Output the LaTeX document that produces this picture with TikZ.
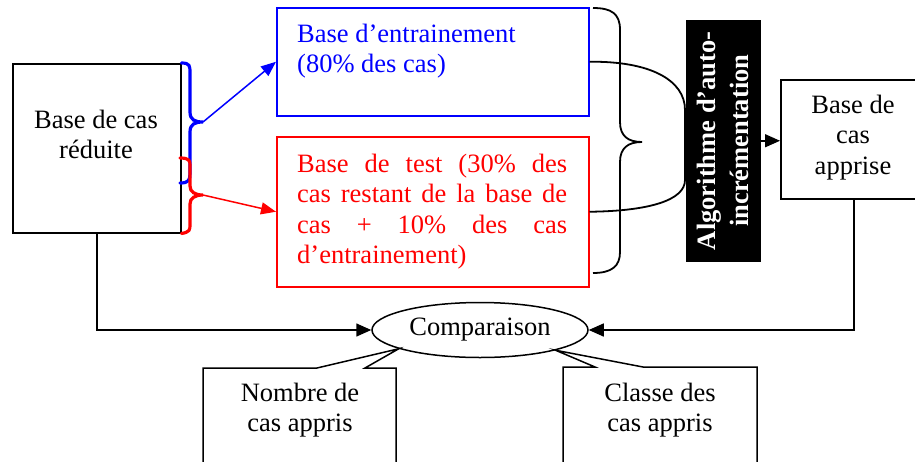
\documentclass[tikz,border=0pt]{standalone}
\usepackage{fontspec}
\setmainfont{Liberation Serif}
\usetikzlibrary{arrows.meta,shapes.geometric}
\begin{document}
\begin{tikzpicture}[x=1pt,y=-1pt,
  box/.style={draw, line width=1.5pt, inner sep=0pt, anchor=north west},
  txt/.style={inner sep=0pt, anchor=base, font=\fontsize{26.5}{30.5}\selectfont},
  arr/.style={-{Triangle[length=15pt,width=13pt]}, line width=1.5pt},
  brc/.style={line width=3.2pt, line cap=round},
  line/.style={line width=1.5pt}]
\clip (0,0) rectangle (915,461);
\fill[white] (0,0) rectangle (915,461);
% boxes
\node[box, minimum width=168pt, minimum height=169pt] (reduite) at (12,63) {};
\node[box, draw=blue, minimum width=312pt, minimum height=108pt] (bluebox) at (276,7) {};
\node[box, draw=red, minimum width=312pt, minimum height=150pt] (redbox) at (276,136) {};
\node[box, minimum width=146pt, minimum height=119pt] (apprise) at (780,79) {};
% texts
\node[txt] (treduite) at (96,128) {\begin{tabular}[t]{@{}c@{}}Base de cas\\réduite\end{tabular}};
\node[txt, anchor=base west, text=blue] (tblue) at (297,42) {\begin{tabular}[t]{@{}l@{}}Base d’entrainement\\(80\% des cas)\end{tabular}};
\node[txt, anchor=base west, text=red] (tred) at (297,172) {\begin{tabular}[t]{@{}l@{}}%
\hbox to 270pt{Base\hfill de\hfill test\hfill (30\%\hfill des}\\
\hbox to 270pt{cas\hfill restant\hfill de\hfill la\hfill base\hfill de}\\
\hbox to 270pt{cas\hfill +\hfill 10\%\hfill des\hfill cas}\\
d’entrainement)\end{tabular}};
\node[txt] (tapprise) at (853,113) {\begin{tabular}[t]{@{}c@{}}Base de\\cas\\apprise\end{tabular}};
% curve from the two bases into the algorithm
\draw[line width=1.8pt] (bluebox.east) .. controls (650,61) and (685,80) .. (685,110) -- (685,180) .. controls (685,200) and (650,211) .. (redbox.east);
% big brace
\draw[line width=1.8pt] (593,8) .. controls (612,8) and (620,14) .. (620,30) -- (620,122) .. controls (620,136) and (628,142) .. (642,142) .. controls (628,142) and (620,148) .. (620,162) -- (620,252) .. controls (620,266) and (612,273) .. (593,273);
% algorithm box
\node[box, fill=black, minimum width=73pt, minimum height=240pt] (algo) at (686,20) {};
\node[inner sep=0pt, rotate=90, text=white, align=center, font=\bfseries\fontsize{26.5}{33}\selectfont] (talgo) at (algo.center) {Algorithme d’auto-\\incrémentation};
\draw[arr] (algo.east) -- (apprise.west |- algo.east);
% braces
\draw[brc, blue] (reduite.north east) .. controls (190,63) and (190,66) .. (190,73) -- (190,112) .. controls (190,120) and (195,122) .. (203,122) coordinate (bt) .. controls (195,122) and (190,124) .. (190,132) -- (190,173) .. controls (190,180) and (189,183) .. (180,183);
\draw[brc, red] (180,158) .. controls (190,158) and (190,161) .. (190,166) -- (190,186) .. controls (190,192) and (195,195) .. (203,195) coordinate (rt) .. controls (195,195) and (190,198) .. (190,204) -- (190,224) .. controls (190,230) and (190,232) .. (reduite.south east);
\draw[blue, line width=1.5pt, -{Triangle[length=15pt,width=12pt]}] (bt) -- (bluebox.west);
\draw[red, line width=1.5pt, -{Triangle[length=15pt,width=12pt]}] (rt) -- (redbox.west);
% comparison
\node[draw, ellipse, line width=1.5pt, inner sep=0pt, minimum width=216pt, minimum height=55pt, font=\fontsize{26.5}{30.5}\selectfont] (cmp) at (480,330) {Comparaison};
\draw[arr] (reduite.south) |- (cmp.west);
\draw[arr] (apprise.south) |- (cmp.east);
% callouts
\draw[line, line join=miter] (203,475) -- (203,368) -- (317,368) -- (cmp.193) -- (365,368) -- (396,368) -- (396,475);
\draw[line, line join=miter] (563,475) -- (563,367) -- (595,367) -- (cmp.345) -- (643,367) -- (757,367) -- (757,475);
\node[txt] (tnombre) at (300,401) {\begin{tabular}[t]{@{}c@{}}Nombre de\\cas appris\end{tabular}};
\node[txt] (tclasse) at (660,401) {\begin{tabular}[t]{@{}c@{}}Classe des\\cas appris\end{tabular}};
\end{tikzpicture}
\end{document}
